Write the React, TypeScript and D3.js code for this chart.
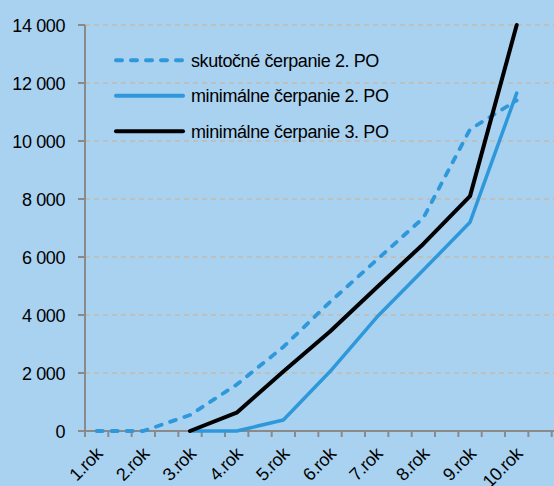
import React from 'react'
import * as d3 from 'd3'

// chart data
const years = ['1.rok', '2.rok', '3.rok', '4.rok', '5.rok', '6.rok', '7.rok', '8.rok', '9.rok', '10.rok']
const actual2PO = [0, 0, 550, 1600, 2900, 4450, 5900, 7350, 10400, 11400]
const min2PO = [null, null, 0, 0, 380, 2050, 3920, 5550, 7200, 11650]
const min3PO = [null, null, 0, 630, 2050, 3430, 4950, 6450, 8100, 14000]
const yTicks = [0, 2000, 4000, 6000, 8000, 10000, 12000, 14000]

const legendItems = [
  { label: 'skutočné čerpanie 2. PO', color: '#2E98DA', dash: '6,9' },
  { label: 'minimálne čerpanie 2. PO', color: '#2E98DA', dash: null },
  { label: 'minimálne čerpanie 3. PO', color: '#000000', dash: null },
]

export default function App() {
  const width = 554
  const height = 486
  const left = 85
  const top = 25
  const bottom = 431

  const y = d3.scaleLinear().domain([0, 14000]).range([bottom, top])
  // category points sit a quarter step in from the axis, minor ticks every half step
  const x = d3.scaleLinear().domain([-0.25, 9.75]).range([left, 551.7])
  const minorTicks = d3.range(-0.25, 9.76, 0.5)

  const fmt = (v: number) => d3.format(',')(v).replace(/,/g, ' ')

  const line = d3.line<number | null>()
    .defined(d => d !== null)
    .x((_, i) => x(i))
    .y(d => y(d as number))

  const series = [
    { values: actual2PO, color: '#2E98DA', dash: '6,9', w: 3.8 },
    { values: min2PO, color: '#2E98DA', dash: null, w: 3.5 },
    { values: min3PO, color: '#000000', dash: null, w: 4 },
  ]

  const txt = { fontSize: 18, letterSpacing: -0.4, fill: '#000' }

  return (
    <svg width={width} height={height}
      style={{ position: 'absolute', left: 0, top: 0, background: '#A9D2F1', fontFamily: '"Liberation Sans", Arial, sans-serif' }}>
      <rect x={0} y={0} width={width} height={height} fill="#A9D2F1" />

      {/* grid */}
      {yTicks.filter(t => t > 0).map(t => (
        <line key={t} x1={left} x2={width} y1={y(t)} y2={y(t)}
          stroke="#C2BCB0" strokeWidth={1.5} strokeDasharray="5,4" />
      ))}

      {/* y axis */}
      <line x1={left} x2={left} y1={top} y2={bottom} stroke="#8A8A8A" strokeWidth={2} />
      {yTicks.map(t => (
        <g key={t}>
          <line x1={78} x2={left} y1={y(t)} y2={y(t)} stroke="#8A8A8A" strokeWidth={2} />
          <text x={65} y={y(t) + 7} textAnchor="end" {...txt}>{fmt(t)}</text>
        </g>
      ))}

      {/* x axis */}
      <line x1={left} x2={width} y1={bottom} y2={bottom} stroke="#8A8A8A" strokeWidth={2} />
      {minorTicks.map((t, i) => (
        <line key={i} x1={x(t)} x2={x(t)} y1={bottom} y2={437} stroke="#8A8A8A" strokeWidth={2} />
      ))}
      {years.map((yr, i) => (
        <text key={yr} transform={`translate(${x(i) + 7},${455}) rotate(-45)`}
          textAnchor="end" {...txt}>{yr}</text>
      ))}

      {/* lines */}
      {series.map((s, i) => (
        <path key={i} d={line(s.values) || ''} fill="none" stroke={s.color}
          strokeWidth={s.w} strokeDasharray={s.dash || undefined}
          strokeLinecap="round" strokeLinejoin="round" />
      ))}

      {/* legend */}
      {legendItems.map((it, i) => {
        const ly = 60.3 + i * 35.5
        return (
          <g key={it.label}>
            <line x1={116} x2={183} y1={ly} y2={ly} stroke={it.color} strokeWidth={4}
              strokeDasharray={it.dash || undefined} strokeLinecap="round" />
            <text x={191} y={ly + 6.5} {...txt}>{it.label}</text>
          </g>
        )
      })}
    </svg>
  )
}
